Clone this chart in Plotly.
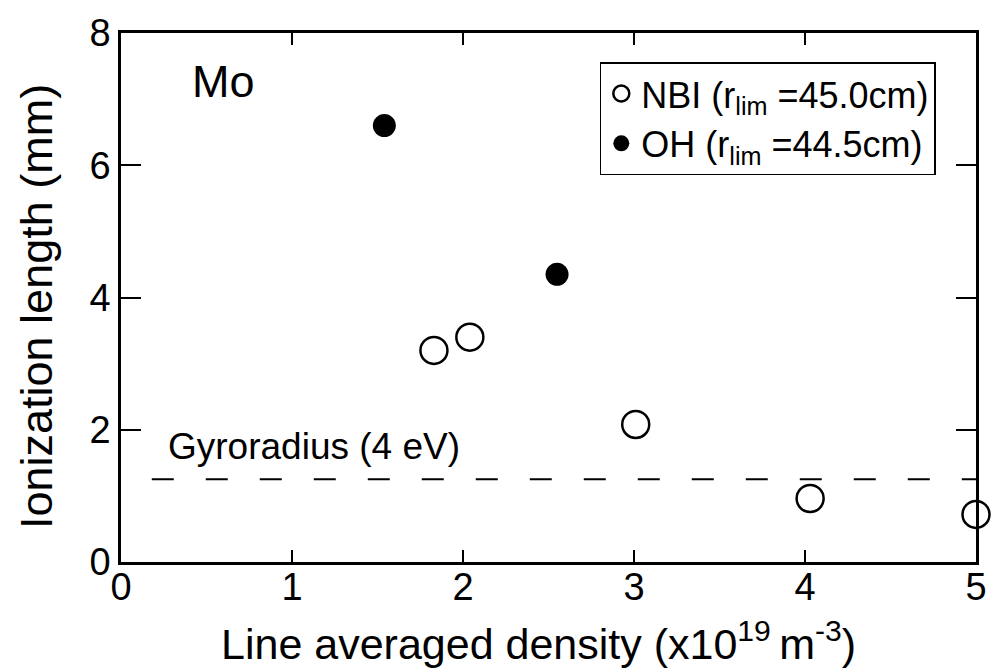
import plotly.graph_objects as go

nbi_x = [1.83, 2.04, 3.01, 4.03, 5.0]
nbi_y = [3.2, 3.4, 2.08, 0.96, 0.72]
oh_x = [1.54, 2.55]
oh_y = [6.6, 4.35]
gyro_x = [0.18, 5.0]
gyro_y = [1.25, 1.25]

FONT = "Liberation Sans, Arial, sans-serif"

fig = go.Figure()
fig.add_trace(go.Scatter(
    x=gyro_x, y=gyro_y, mode="lines", showlegend=False,
    line=dict(color="black", width=2, dash="22px,32px"), cliponaxis=False))
fig.add_trace(go.Scatter(
    x=nbi_x, y=nbi_y, mode="markers",
    name="NBI (r<sub>lim</sub> =45.0cm)",
    marker=dict(symbol="circle-open", size=27, color="black", line=dict(width=2.5)),
    cliponaxis=False))
fig.add_trace(go.Scatter(
    x=oh_x, y=oh_y, mode="markers",
    name="OH (r<sub>lim</sub> =44.5cm)",
    marker=dict(symbol="circle", size=23, color="black"),
    cliponaxis=False))

fig.add_annotation(x=0.6, y=7.26, text="Mo", showarrow=False, xref="x", yref="y",
                   xanchor="center", yanchor="middle",
                   font=dict(size=45, family=FONT, color="black"))
fig.add_annotation(x=1.13, y=1.74, text="Gyroradius (4 eV)", showarrow=False,
                   xref="x", yref="y", xanchor="center", yanchor="middle",
                   font=dict(size=37, family=FONT, color="black"))
fig.add_annotation(x=0.488, y=-0.1484, xref="paper", yref="paper", showarrow=False,
                   xanchor="center", yanchor="middle",
                   text="Line averaged density (x10<sup>19 </sup>m<sup>-3</sup>)",
                   font=dict(size=43, family=FONT, color="black"))
fig.add_annotation(x=-0.0994, y=0.482, xref="paper", yref="paper", showarrow=False,
                   xanchor="center", yanchor="middle",
                   text="Ionization length (mm)", textangle=-90,
                   font=dict(size=45, family=FONT, color="black"))

axis_common = dict(showgrid=False, zeroline=False, showline=True, linecolor="black",
                   linewidth=2.5, mirror="ticks", ticks="inside", tickcolor="black",
                   tickwidth=2, tickfont=dict(size=38, family=FONT, color="black"))
fig.update_xaxes(range=[0, 5], dtick=1, ticklen=12, ticklabelstandoff=-10, **axis_common)
fig.update_yaxes(range=[0, 8], dtick=2, ticklen=20, **axis_common)

fig.update_layout(
    width=999, height=669,
    margin=dict(l=121, r=13, t=23, b=107),
    paper_bgcolor="white", plot_bgcolor="white",
    legend=dict(x=0.56, y=0.945, xanchor="left", yanchor="top",
                bordercolor="black", borderwidth=1.5, bgcolor="white",
                font=dict(size=36, family=FONT, color="black"),
                itemsizing="trace", tracegroupgap=0),
)
fig.write_html("out.html")
